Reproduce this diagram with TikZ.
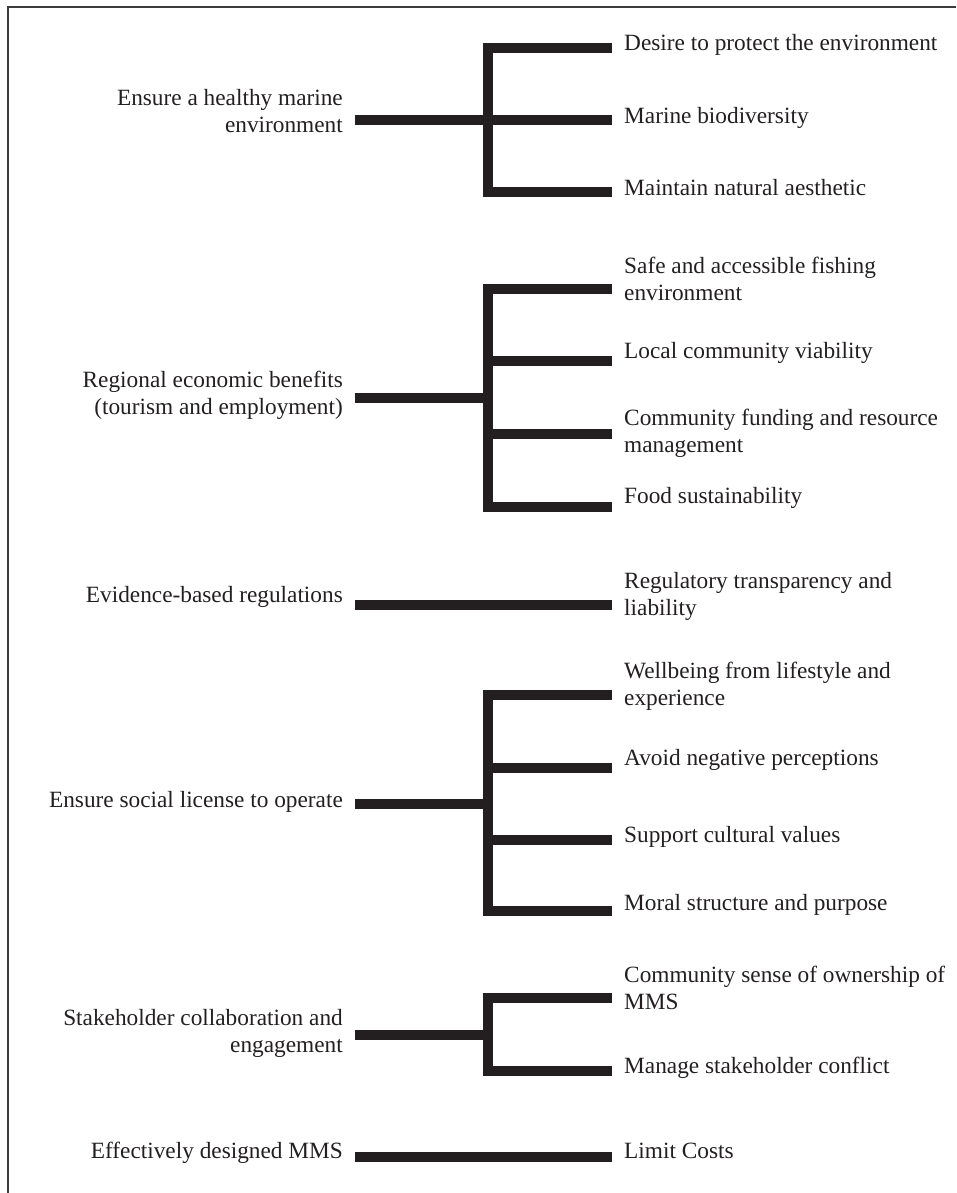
\documentclass[tikz,border=0pt]{standalone}
\usepackage{fontspec}
\setmainfont{Liberation Serif}
\definecolor{ink}{RGB}{35,31,32}
\definecolor{frame}{RGB}{60,60,60}
\begin{document}
\begin{tikzpicture}[x=1pt,y=-1pt,
  txt/.style={inner sep=0pt, text=ink, font=\fontsize{23.3}{27}\selectfont, yshift=18.9pt},
  goal/.style={txt, anchor=north east, align=right},
  item/.style={txt, anchor=north west, align=left},
  bar/.style={draw=ink, line width=10pt, line cap=butt, line join=miter}]
\useasboundingbox (0,0) rectangle (956,1193);
% frame edges
\draw[frame, line width=1.3pt] (8,1193) -- (8,7) -- (956,7);

% left-hand labels (positioned by first baseline)
\node[goal] (g1) at (343,105)  {\strut Ensure a healthy marine\\\strut environment};
\node[goal] (g2) at (343,387)  {\strut Regional economic benefits\\\strut (tourism and employment)};
\node[goal] (g3) at (343,602)  {\strut Evidence-based regulations};
\node[goal] (g4) at (343,807)  {\strut Ensure social license to operate};
\node[goal] (g5) at (343,1025) {\strut Stakeholder collaboration and\\\strut engagement};
\node[goal] (g6) at (343,1158) {\strut Effectively designed MMS};

% right-hand labels
\node[item] (i1a) at (624,50)   {\strut Desire to protect the environment};
\node[item] (i1b) at (624,123)  {\strut Marine biodiversity};
\node[item] (i1c) at (624,195)  {\strut Maintain natural aesthetic};
\node[item] (i2a) at (624,273)  {\strut Safe and accessible fishing\\\strut environment};
\node[item] (i2b) at (624,358)  {\strut Local community viability};
\node[item] (i2c) at (624,425)  {\strut Community funding and resource\\\strut management};
\node[item] (i2d) at (624,503)  {\strut Food sustainability};
\node[item] (i3)  at (624,588)  {\strut Regulatory transparency and\\\strut liability};
\node[item] (i4a) at (624,678)  {\strut Wellbeing from lifestyle and\\\strut experience};
\node[item] (i4b) at (624,765)  {\strut Avoid negative perceptions};
\node[item] (i4c) at (624,842)  {\strut Support cultural values};
\node[item] (i4d) at (624,910)  {\strut Moral structure and purpose};
\node[item] (i5a) at (624,982)  {\strut Community sense of ownership of\\\strut MMS};
\node[item] (i5b) at (624,1073) {\strut Manage stakeholder conflict};
\node[item] (i6)  at (624,1158) {\strut Limit Costs};

% connector ends
\coordinate (s1) at (355,120);  \coordinate (j1) at (488,120);
\coordinate (e1a) at (612,48);  \coordinate (e1b) at (612,120); \coordinate (e1c) at (612,192);
\coordinate (s2) at (355,398);  \coordinate (j2) at (488,398);
\coordinate (e2a) at (612,289); \coordinate (e2b) at (612,361);
\coordinate (e2c) at (612,434); \coordinate (e2d) at (612,507);
\coordinate (s3) at (355,605);  \coordinate (e3) at (612,605);
\coordinate (s4) at (355,804);  \coordinate (j4) at (488,804);
\coordinate (e4a) at (612,695); \coordinate (e4b) at (612,768);
\coordinate (e4c) at (612,840); \coordinate (e4d) at (612,911);
\coordinate (s5) at (355,1035); \coordinate (j5) at (488,1035);
\coordinate (e5a) at (612,998); \coordinate (e5b) at (612,1071);
\coordinate (s6) at (355,1157); \coordinate (e6) at (612,1157);

% group 1
\draw[bar] (s1) -- (j1);
\draw[bar] (e1a) -- (e1a -| j1) -- (e1c -| j1) -- (e1c);
\draw[bar] (j1) -- (e1b);
% group 2
\draw[bar] (s2) -- (j2);
\draw[bar] (e2a) -- (e2a -| j2) -- (e2d -| j2) -- (e2d);
\draw[bar] (e2b -| j2) -- (e2b);
\draw[bar] (e2c -| j2) -- (e2c);
% group 3
\draw[bar] (s3) -- (e3);
% group 4
\draw[bar] (s4) -- (j4);
\draw[bar] (e4a) -- (e4a -| j4) -- (e4d -| j4) -- (e4d);
\draw[bar] (e4b -| j4) -- (e4b);
\draw[bar] (e4c -| j4) -- (e4c);
% group 5
\draw[bar] (s5) -- (j5);
\draw[bar] (e5a) -- (e5a -| j5) -- (e5b -| j5) -- (e5b);
% group 6
\draw[bar] (s6) -- (e6);
\end{tikzpicture}
\end{document}
